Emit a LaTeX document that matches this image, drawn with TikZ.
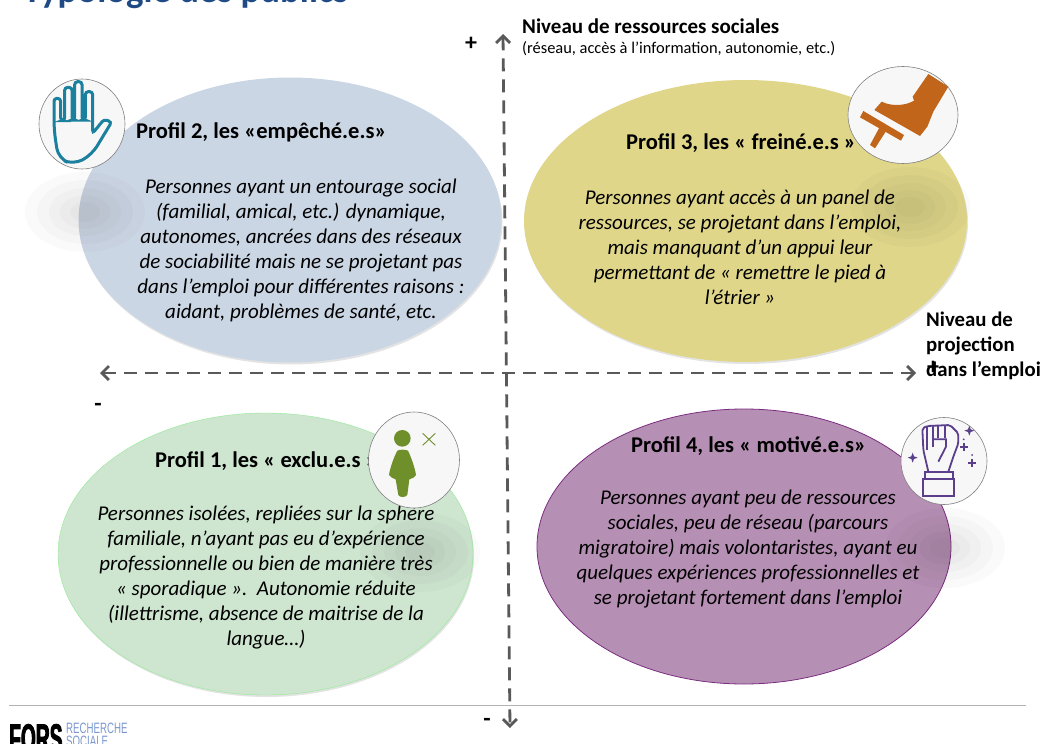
\documentclass[tikz,border=0pt]{standalone}
\usepackage{fontspec}
\setmainfont{Carlito}
\newfontfamily\logofont[FakeStretch=0.48,FakeBold=2]{Liberation Sans}
\newfontfamily\logotexte[FakeStretch=0.645]{Liberation Sans}
\usetikzlibrary{arrows.meta,shapes.geometric,shadows}
\definecolor{bleuprofil}{HTML}{CBD6E4}
\definecolor{jauneprofil}{HTML}{DFD68A}
\definecolor{vertprofil}{HTML}{CEE5D0}
\definecolor{violetprofil}{HTML}{B68FB4}
\definecolor{bordviolet}{HTML}{7B2D80}
\definecolor{bleutitre}{HTML}{1F4A85}
\definecolor{bleulogo}{HTML}{7A97CF}
\definecolor{gain}{HTML}{1B7F9E}
\definecolor{botte}{HTML}{C0651A}
\definecolor{silhouette}{HTML}{6F8F2A}
\definecolor{poing}{HTML}{5B3F8C}
\tikzset{
  profil/.style={ellipse,inner sep=0pt,draw=none},
  ombre/.style={drop shadow={shadow xshift=1pt,shadow yshift=-2pt,opacity=.22}},
  titreprofil/.style={anchor=west,inner sep=0pt,font=\fontsize{22.5}{25}\selectfont\bfseries},
  texteprofil/.style={align=center,inner sep=0pt,font=\fontsize{21}{25}\selectfont\itshape},
  rond/.style={ellipse,inner sep=0pt,fill=white!97!black,draw=black!50,line width=.6pt},
  axe/.style={draw=black!65,line width=2.8pt,dash pattern=on 13pt off 8pt,
    {Straight Barb[length=7pt,width=14pt]}-{Straight Barb[length=7pt,width=14pt]}},
  signe/.style={font=\fontsize{24}{24}\selectfont\bfseries,inner sep=0pt},
}
\newcommand\tache[1]{%
  \foreach \taille in {1,.8,.6,.42,.25}
    \fill[black,opacity=.018] (#1) ellipse ({60*\taille} and {40*\taille});
}
\begin{document}
\begin{tikzpicture}[x=1pt,y=-1pt]
\useasboundingbox (0,0) rectangle (1042,744);
\clip (0,0) rectangle (1042,744);
\node[anchor=base west,inner sep=0pt,text=bleutitre,font=\fontsize{36.8}{37}\selectfont\bfseries] (titre) at (23,2) {Typologie des publics};
%
\node[profil,ombre,fill=bleuprofil,minimum width=423pt,minimum height=285pt] (profilb) at (290,220) {};
\node[profil,ombre,fill=jauneprofil,minimum width=443pt,minimum height=282pt] (profilj) at (745.5,221) {};
\node[profil,ombre,fill=vertprofil,draw=green!30!vertprofil,minimum width=415pt,minimum height=282pt] (profilv) at (265.5,554) {};
\node[profil,fill=violetprofil,draw=bordviolet,line width=.8pt,minimum width=414pt,minimum height=275pt] (profilm) at (744,546.5) {};
%
\tache{85,212}
\tache{910,207}
\tache{420,552}
\tache{945,548}
%
\coordinate (axeh) at (503,34);
\coordinate (axeb) at (510,728);
\coordinate (axeg) at (100,373);
\coordinate (axed) at (916,373);
\draw[axe] (axeh) -- (axeb);
\draw[axe] (axeg) -- (axed);
\draw[black!30,line width=1pt] (9,705) coordinate (pieda) -- (1026,705) coordinate (piedb);
%
\node[titreprofil] (titreb) at (136,132) {Profil 2, les «empêché.e.s»};
\node[titreprofil] (titrej) at (626,143) {Profil 3, les « freiné.e.s »};
\node[titreprofil] (titrev) at (155,461) {Profil 1, les « exclu.e.s »};
\node[titreprofil] (titrem) at (631,446) {Profil 4, les « motivé.e.s»};
%
\node[texteprofil] (texteb) at (301,250) {Personnes ayant un entourage social\\(familial, amical, etc.) dynamique,\\autonomes, ancrées dans des réseaux\\de sociabilité mais ne se projetant pas\\dans l’emploi pour différentes raisons :\\aidant, problèmes de santé, etc.};
\node[texteprofil] (textej) at (740,247) {Personnes ayant accès à un panel de\\ressources, se projetant dans l’emploi,\\mais manquant d’un appui leur\\permettant de « remettre le pied à\\l’étrier »};
\node[texteprofil] (textev) at (266,578) {Personnes isolées, repliées sur la sphère\\familiale, n’ayant pas eu d’expérience\\professionnelle ou bien de manière très\\« sporadique ».\ \ Autonomie réduite\\(illettrisme, absence de maitrise de la\\langue…)};
\node[texteprofil] (textem) at (748,549) {Personnes ayant peu de ressources\\sociales, peu de réseau (parcours\\migratoire) mais volontaristes, ayant eu\\quelques expériences professionnelles et\\se projetant fortement dans l’emploi};
%
\node[anchor=base west,inner sep=0pt,font=\fontsize{21}{21}\selectfont\bfseries] (labelh) at (522,33) {Niveau de ressources sociales};
\node[anchor=base west,inner sep=0pt,font=\fontsize{16.4}{16.4}\selectfont] (labelhb) at (522,53) {(réseau, accès à l’information, autonomie, etc.)};
\node[anchor=west,align=left,inner sep=0pt,font=\fontsize{20.8}{25}\selectfont\bfseries] (labeld) at (926,346) {Niveau de\\projection\\dans l’emploi};
%
\node[signe] (plush) at (471,44) {+};
\node[signe] (plusd) at (933,368) {+};
\node[signe] (moinsg) at (98,407) {-};
\node[signe] (moinsb) at (487,722) {-};
%
\node[rond,minimum width=86pt,minimum height=90pt] (rondb) at (82,124) {};
\begin{scope}[shift={(30,70)},scale=1/3]
\draw[gain,line width=3pt,rounded corners=3pt](72,180)--(72,85)--(92,85)--(92,152)--(104,152)--(104,52)--(126,52)--(126,150)--(134,150)--(134,35)--(156,35)--(156,150)--(166,150)--(166,65)--(188,65)--(188,190)--(222,148)--(245,156)[rounded corners=10pt]--(185,255)--(130,284)--(85,265)--cycle;
\end{scope}
%
\node[rond,minimum width=110pt,minimum height=97pt] (rondj) at (903,115) {};
\begin{scope}[shift={(840,60)},scale=1/3]
\fill[botte](265,42)--(325,80)--(280,155)--(262,200)--(240,228)--(103,150)--(125,125)..controls(160,142)and(200,135)..(222,122)--(218,110)--cycle;
\fill[botte](70,153)--(192,225)--(183,242)--(60,172)--cycle;
\fill[botte](118,203)--(137,215)--(105,265)--(90,255)--cycle;
\end{scope}
%
\node[rond,minimum width=91pt,minimum height=96pt] (rondv) at (414,460) {};
\begin{scope}[shift={(0,380)},scale=1/3]
\fill[silhouette](1207,175)circle(25);
\fill[silhouette](1192,212)..controls(1180,235)and(1170,265)..(1167,285)..controls(1170,292)and(1180,295)..(1187,298)--(1195,345)..controls(1200,353)and(1216,353)..(1222,345)--(1228,298)..controls(1238,295)and(1245,292)..(1248,285)..controls(1245,265)and(1235,235)..(1224,212)..controls(1215,208)and(1200,208)..(1192,212)--cycle;
\draw[silhouette,line width=.9pt](1268,160)--(1306,196);
\draw[silhouette,line width=.9pt](1306,160)--(1268,196);
\end{scope}
%
\node[rond,minimum width=86pt,minimum height=87pt] (rondm) at (944,461) {};
\begin{scope}[shift={(890,410)},scale=1/3,poing,line width=1.8pt]
\draw(100,207)rectangle(193,257);
\draw(105,185)rectangle(190,207);
\draw[rounded corners=2pt](115,185)--(100,120)--(97,55)--(112,48)--(180,45)--(205,70)--(205,100)--(190,140)--(175,185);
\draw(112,48)--(112,120);
\draw(128,48)--(128,110);
\draw(145,46)--(145,85);
\draw(165,46)--(165,85);
\draw(128,88)--(168,88)--(168,110)--(145,155);
\fill(68,128)--(72,139)--(83,143)--(72,147)--(68,158)--(64,147)--(53,143)--(64,139)--cycle;
\fill(238,47)--(242,58)--(253,62)--(242,66)--(238,77)--(234,66)--(223,62)--(234,58)--cycle;
\draw(222,100)--(222,124);
\draw(211,112)--(233,112);
\draw(246,148)--(246,172);
\draw(235,160)--(257,160);
\fill(221,88)circle(3);
\fill(246,135)circle(3);
\end{scope}
%
\node[anchor=base west,inner sep=0pt,font=\logofont\bfseries\fontsize{40}{40}\selectfont] (logoa) at (9,752) {FORS};
\node[anchor=base west,inner sep=0pt,text=bleulogo,font=\logotexte\fontsize{15}{15}\selectfont] (logob) at (66,733) {RECHERCHE};
\node[anchor=base west,inner sep=0pt,text=bleulogo,font=\logotexte\fontsize{15}{15}\selectfont] (logoc) at (66,746) {SOCIALE};
\end{tikzpicture}
\end{document}
